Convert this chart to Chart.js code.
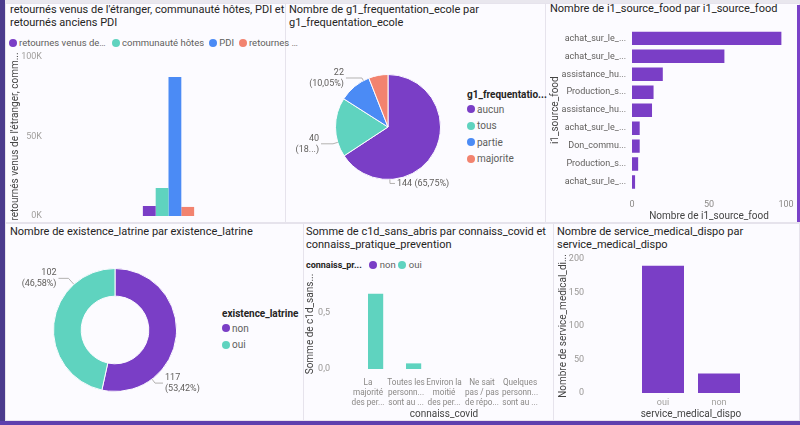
<!DOCTYPE html>
<html>
<head>
<meta charset="utf-8">
<script src="https://cdn.jsdelivr.net/npm/chart.js@4.4.1/dist/chart.umd.min.js"></script>
<style>
  body { margin: 0; width: 800px; height: 425px; overflow: hidden; position: relative;
         background: #f4f1f9; font-family: Roboto, 'Noto Sans', sans-serif; }
  .panel { position: absolute; background: #fcfbff; border: 1px solid #e6e3ec; box-sizing: border-box; }
  .title { position: absolute; font-size: 11px; line-height: 12.8px; color: #252423; white-space: nowrap; }
  .box { position: absolute; }
  .legend { position: absolute; font-size: 10px; color: #605e5c; white-space: nowrap; }
  .legend b { color: #252423; }
  .dot { display: inline-block; width: 8px; height: 8px; border-radius: 50%; margin-right: 2px; flex-shrink: 0; }
  .vlegend .row { display: flex; align-items: center; height: 16.5px; }
  .vlegend .head { height: 12px; line-height: 12px; font-weight: bold; color: #252423; }
  #lg1 { display: flex; align-items: center; gap: 5px; width: 276px; font-size: 9.5px; }
  #lg1 .it { display: flex; align-items: center; min-width: 0; flex-shrink: 0; }
  #lg1 .it span { overflow: hidden; text-overflow: ellipsis; }
  #lg5 { display: flex; align-items: center; gap: 2px; font-size: 9.5px; }
  #lg5 .dot { margin-right: 1px; }
  #lg5 b { font-size: 9px; margin-right: 5px; }
</style>
</head>
<body>
<div style="position:absolute;left:0;top:0;width:5px;height:425px;background:#4b3b8d"></div>
<div style="position:absolute;left:0;top:421px;width:800px;height:4px;background:#5e3fae"></div>
<div style="position:absolute;left:5px;top:0;width:795px;height:3px;background:#e9e7ee"></div>

<div class="panel" style="left:5px;top:3px;width:281px;height:220px"></div>
<div class="panel" style="left:285px;top:3px;width:261px;height:220px"></div>
<div class="panel" style="left:545px;top:3px;width:255px;height:220px"></div>
<div class="panel" style="left:5px;top:223px;width:299px;height:198px"></div>
<div class="panel" style="left:303px;top:223px;width:251px;height:198px"></div>
<div class="panel" style="left:553px;top:223px;width:247px;height:198px"></div>
<div style="position:absolute;left:797px;top:5px;width:3px;height:217px;background:#7a42c8"></div>

<div class="title" style="left:10px;top:4px">retournés venus de l'étranger, communauté hôtes, PDI et<br>retournés anciens PDI</div>
<div class="title" style="left:289px;top:4px">Nombre de g1_frequentation_ecole par<br>g1_frequentation_ecole</div>
<div class="title" style="left:550px;top:3px">Nombre de i1_source_food par i1_source_food</div>
<div class="title" style="left:10px;top:226px">Nombre de existence_latrine par existence_latrine</div>
<div class="title" style="left:306px;top:226px">Somme de c1d_sans_abris par connaiss_covid et<br>connaiss_pratique_prevention</div>
<div class="title" style="left:557px;top:226px">Nombre de service_medical_dispo par<br>service_medical_dispo</div>

<div class="legend" id="lg1" style="left:9px;top:36px;height:13px"></div>
<div class="legend vlegend" id="lg2" style="left:467px;top:89px"></div>
<div class="legend vlegend" id="lg4" style="left:222px;top:308px"></div>
<div class="legend" id="lg5" style="left:306px;top:258px;height:13px"></div>

<div class="box" style="left:5px;top:48px;width:280px;height:174px"><canvas id="popChart"></canvas></div>
<div class="box" style="left:285px;top:24px;width:206px;height:206px"><canvas id="ecoleChart"></canvas></div>
<div class="box" style="left:545px;top:24px;width:250px;height:198px"><canvas id="foodChart"></canvas></div>
<div class="box" style="left:5px;top:250px;width:220px;height:160px"><canvas id="latrineChart"></canvas></div>
<div class="box" style="left:300px;top:272px;width:250px;height:148px"><canvas id="covidChart"></canvas></div>
<div class="box" style="left:553px;top:250px;width:244px;height:170px"><canvas id="medicalChart"></canvas></div>

<script>
// --- data ---
const popSeries = ["retournes venus de l'étranger", 'communauté hôtes', 'PDI', 'retournes anciens PDI'];
const popValues = [6300, 17600, 87400, 5700];

const ecoleLabels = ['aucun', 'tous', 'partie', 'majorite'];
const ecoleValues = [144, 40, 22, 13];

const foodLabels = ['achat_sur_le_...', 'achat_sur_le_...', 'assistance_hu...', 'Production_s...',
  'assistance_hu...', 'achat_sur_le_...', 'Don_commu...', 'Production_s...', 'achat_sur_le_...'];
const foodValues = [97, 60, 20, 14, 13, 5, 5, 4, 2];

const latrineLabels = ['non', 'oui'];
const latrineValues = [117, 102];

const covidLabels = [
  ['La', 'majorité', 'des per...'],
  ['Toutes les', 'personn...', 'sont au ...'],
  ['Environ la', 'moitié', 'des per...'],
  ['Ne sait', 'pas / pas', 'de répo...'],
  ['Quelques', 'personn...', 'sont au ...']
];
const preventionSeries = ['non', 'oui'];
const abrisNon = [0, 0, 0, 0, 0];
const abrisOui = [0.67, 0.05, 0, 0, 0];
const abrisTickValues = [0, 0.5];
const abrisTickLabels = ['0,0', '0,5'];

const medicalLabels = ['oui', 'non'];
const medicalValues = [190, 29];
const medicalTickValues = [0, 50, 100, 150, 200];
const medicalTickLabels = ['0', '50', '100', '150', '200'];

const PURPLE = '#7a3ec6', TEAL = '#5fd3bf', BLUE = '#4b8bf5', SALMON = '#f2836f';
const popColors = [PURPLE, TEAL, BLUE, SALMON];

Chart.defaults.font.family = "Roboto, 'Noto Sans', sans-serif";
Chart.defaults.animation = false;
Chart.defaults.plugins.legend.display = false;
Chart.defaults.plugins.tooltip.enabled = false;
Chart.defaults.color = '#605e5c';

const tickGrey = '#a19f9d';
const axisTitle = (text) => ({ display: true, text: text, color: '#444', font: { size: 10 }, padding: { top: 4, bottom: 0 } });
// label gap made with an undrawn tick mark (ticks.padding would also pad the plot area)
const gap = (len) => ({ display: false, drawTicks: true, tickLength: len });
const noGrid = { display: false, drawTicks: false };

// y tick labels set well left of the plot (Power BI style), placed through the y scale
function sideTicks(values, labels, gapPx) {
  return {
    id: 'sideTicks',
    afterDraw(chart) {
      const s = chart.scales.y, ctx = chart.ctx;
      const x = chart.chartArea.left - gapPx;
      ctx.save();
      ctx.font = '9px Roboto, sans-serif';
      ctx.fillStyle = '#9a9896';
      ctx.textAlign = 'right';
      ctx.textBaseline = 'middle';
      values.forEach((v, i) => ctx.fillText(labels[i], x, s.getPixelForValue(v)));
      ctx.restore();
    }
  };
}

// outside labels with leader lines for pie / doughnut
const frFmt = v => v.toFixed(2).replace('.', ',');
const arcLabels = {
  id: 'arcLabels',
  afterDatasetsDraw(chart, args, opts) {
    const ctx = chart.ctx;
    const meta = chart.getDatasetMeta(0);
    const data = chart.data.datasets[0].data;
    const total = data.reduce((a, b) => a + b, 0);
    ctx.save();
    ctx.font = '9px Roboto';
    ctx.fillStyle = '#605e5c';
    ctx.strokeStyle = '#a19f9d';
    ctx.lineWidth = 0.8;
    (opts.items || []).forEach(item => {
      const arc = meta.data[item.index];
      const { x, y, outerRadius } = arc.getProps(['x', 'y', 'outerRadius'], true);
      const t = item.angle * Math.PI / 180;
      const x0 = x + Math.sin(t) * outerRadius, y0 = y - Math.cos(t) * outerRadius;
      const x1 = x + Math.sin(t) * (outerRadius + item.out), y1 = y - Math.cos(t) * (outerRadius + item.out);
      const x2 = x1 + item.side * item.len;
      ctx.beginPath();
      ctx.moveTo(x0, y0); ctx.lineTo(x1, y1); ctx.lineTo(x2, y1);
      ctx.stroke();
      const v = data[item.index];
      let pct = frFmt(v / total * 100);
      const tx = x2 + item.side * 2;
      const room = item.side < 0 ? tx - 10 : chart.width - tx - 10;
      let pLabel = '(' + pct + '%)';
      while (ctx.measureText(pLabel).width > room && pct.length > 1) {
        pct = pct.slice(0, -1);
        if (pct.endsWith(',')) pct = pct.slice(0, -1);
        pLabel = '(' + pct + '...)';
      }
      const lines = item.oneLine ? [v + ' ' + pLabel] : [String(v), pLabel];
      ctx.textAlign = item.side < 0 ? 'right' : 'left';
      ctx.textBaseline = 'middle';
      lines.forEach((l, i) => ctx.fillText(l, tx, y1 + (i - (lines.length - 1) / 2) * 11));
    });
    ctx.restore();
  }
};

// legends
const lg1Widths = [88, null, null, 54];
document.getElementById('lg1').innerHTML = popSeries.map((s, i) =>
  `<span class="it"><i class="dot" style="background:${popColors[i]}"></i><span${lg1Widths[i] ? ` style="max-width:${lg1Widths[i]}px"` : ''}>${s}</span></span>`).join('');
const ecoleColors = [PURPLE, TEAL, BLUE, SALMON];
document.getElementById('lg2').innerHTML = '<div class="head">g1_frequentatio...</div>' +
  ecoleLabels.map((s, i) => `<div class="row"><i class="dot" style="background:${ecoleColors[i]}"></i>${s}</div>`).join('');
const latrineColors = [PURPLE, TEAL];
document.getElementById('lg4').innerHTML = '<div class="head">existence_latrine</div>' +
  latrineLabels.map((s, i) => `<div class="row"><i class="dot" style="background:${latrineColors[i]}"></i>${s}</div>`).join('');
const prevColors = [PURPLE, TEAL];
document.getElementById('lg5').innerHTML = '<b>connaiss_pr...</b>' +
  preventionSeries.map((s, i) => `<i class="dot" style="background:${prevColors[i]}"></i><span>${s}</span>`).join('');

// 1. population bars
new Chart(document.getElementById('popChart'), {
  type: 'bar',
  data: {
    labels: [''],
    datasets: popSeries.map((s, i) => ({
      label: s, data: [popValues[i]], backgroundColor: popColors[i],
      categoryPercentage: 0.22, barPercentage: 1
    }))
  },
  options: {
    responsive: true, maintainAspectRatio: false,
    layout: { padding: { top: 9, bottom: 6 } },
    scales: {
      x: { display: false },
      y: {
        min: 0, max: 100000,
        ticks: { stepSize: 50000, padding: 0, color: tickGrey, font: { size: 9 }, callback: v => (v / 1000) + 'K' },
        grid: gap(10), border: { display: false },
        title: axisTitle("retournés venus de l'étranger, comm..."),
        afterFit: s => { s.width = 47; }
      }
    }
  }
});

// 2. school attendance pie
new Chart(document.getElementById('ecoleChart'), {
  type: 'pie',
  data: { labels: ecoleLabels, datasets: [{ data: ecoleValues, backgroundColor: ecoleColors, borderColor: '#fcfbff', borderWidth: 1, hoverOffset: 0 }] },
  options: {
    responsive: true, maintainAspectRatio: false,
    layout: { padding: 50 },
    plugins: {
      arcLabels: { items: [
        { index: 0, angle: 178, side: 1, out: 4, len: 5, oneLine: true },
        { index: 1, angle: 253, side: -1, out: 5, len: 12 },
        { index: 2, angle: 332, side: -1, out: 3, len: 16 }
      ] }
    }
  },
  plugins: [arcLabels]
});

// 3. food source horizontal bars
new Chart(document.getElementById('foodChart'), {
  type: 'bar',
  data: { labels: foodLabels, datasets: [{ data: foodValues, backgroundColor: PURPLE, categoryPercentage: 0.75, barPercentage: 1 }] },
  options: {
    indexAxis: 'y',
    responsive: true, maintainAspectRatio: false,
    layout: { padding: { top: 5, right: 9 } },
    scales: {
      x: {
        min: 0, max: 100,
        ticks: { stepSize: 50, padding: 0, color: '#8a8886', font: { size: 9 } },
        grid: gap(8), border: { display: false },
        title: Object.assign(axisTitle('Nombre de i1_source_food'), { padding: 0 }),
        afterFit: s => { s.height = 31; }
      },
      y: {
        ticks: { padding: 0, color: '#605e5c', font: { size: 9 }, autoSkip: false },
        grid: gap(6), border: { display: false },
        title: axisTitle('i1_source_food'),
        afterFit: s => { s.width = 87; }
      }
    }
  }
});

// 4. latrine doughnut
new Chart(document.getElementById('latrineChart'), {
  type: 'doughnut',
  data: { labels: latrineLabels, datasets: [{ data: latrineValues, backgroundColor: latrineColors, borderColor: '#fcfbff', borderWidth: 1, hoverOffset: 0 }] },
  options: {
    responsive: true, maintainAspectRatio: false,
    cutout: '55%',
    layout: { padding: { left: 48, right: 48, top: 18, bottom: 18 } },
    plugins: {
      arcLabels: { items: [
        { index: 1, angle: 318, side: -1, out: 8, len: 10 },
        { index: 0, angle: 143, side: 1, out: 5, len: 8 }
      ] }
    }
  },
  plugins: [arcLabels]
});

// 5. covid knowledge grouped bars
new Chart(document.getElementById('covidChart'), {
  type: 'bar',
  data: {
    labels: covidLabels,
    datasets: [
      { label: preventionSeries[0], data: abrisNon, backgroundColor: PURPLE, categoryPercentage: 0.8, barPercentage: 1 },
      { label: preventionSeries[1], data: abrisOui, backgroundColor: TEAL, categoryPercentage: 0.8, barPercentage: 1 }
    ]
  },
  options: {
    responsive: true, maintainAspectRatio: false,
    layout: { padding: { top: 7, right: 11 } },
    scales: {
      x: {
        ticks: { padding: 0, color: '#8a8886', font: { size: 8.2, lineHeight: 1.22 }, maxRotation: 0, autoSkip: false },
        grid: gap(9), border: { display: false },
        title: Object.assign(axisTitle('connaiss_covid'), { padding: 0 }),
        afterFit: s => { s.height = 51; }
      },
      y: {
        min: 0, max: 0.8,
        ticks: { display: false },
        grid: noGrid, border: { display: false },
        title: axisTitle('Somme de c1d_sans...'),
        afterFit: s => { s.width = 49; }
      }
    }
  },
  plugins: [sideTicks(abrisTickValues, abrisTickLabels, 19)]
});

// 6. medical service bars
new Chart(document.getElementById('medicalChart'), {
  type: 'bar',
  data: { labels: medicalLabels, datasets: [{ data: medicalValues, backgroundColor: PURPLE, categoryPercentage: 0.75, barPercentage: 1 }] },
  options: {
    responsive: true, maintainAspectRatio: false,
    layout: { padding: { top: 9, right: 50 } },
    scales: {
      x: {
        ticks: { padding: 0, color: tickGrey, font: { size: 9 } },
        grid: gap(4), border: { display: false },
        title: Object.assign(axisTitle('service_medical_dispo'), { padding: 0 }),
        afterFit: s => { s.height = 27; }
      },
      y: {
        min: 0, max: 200,
        ticks: { display: false },
        grid: noGrid, border: { display: false },
        title: axisTitle('Nombre de service_medical_di...'),
        afterFit: s => { s.width = 82; }
      }
    }
  },
  plugins: [sideTicks(medicalTickValues, medicalTickLabels, 51)]
});
</script>
</body>
</html>
